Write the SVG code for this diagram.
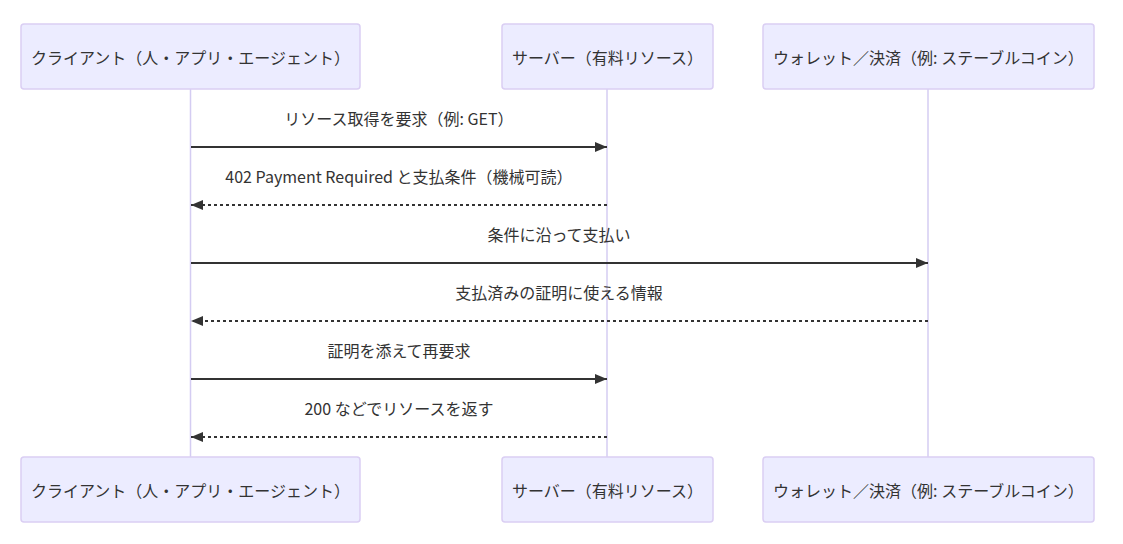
<svg xmlns="http://www.w3.org/2000/svg" width="1123" height="544" viewBox="0 0 1123 544">
<defs>
<style>
.actor{fill:#ECECFF;stroke:#DACEF3;stroke-width:1.5}
.lifeline{stroke:#D4CCF2;stroke-width:1.5}
.atext{font-family:"Noto Sans CJK JP","Noto Sans",sans-serif;font-size:16px;fill:#333;text-anchor:middle;dominant-baseline:central}
.mtext{font-family:"Noto Sans CJK JP","Noto Sans",sans-serif;font-size:16px;fill:#333;text-anchor:middle;dominant-baseline:central}
.msg{stroke:#333;stroke-width:2;fill:none}
.dashed{stroke-dasharray:3,3}
</style>
<marker id="arrow" viewBox="0 0 12 10" refX="12" refY="5" markerWidth="12" markerHeight="10" markerUnits="userSpaceOnUse" orient="auto">
<path d="M0,0 L12,5 L0,10 z" fill="#333"/>
</marker>
</defs>
<rect width="1123" height="544" fill="#fff"/>
<g id="lifelines">
<line class="lifeline" x1="190.5" y1="89" x2="190.5" y2="457"/>
<line class="lifeline" x1="607" y1="89" x2="607" y2="457"/>
<line class="lifeline" x1="928" y1="89" x2="928" y2="457"/>
</g>
<g id="client-top"><rect class="actor" x="21" y="24" width="339" height="65" rx="3"/><text class="atext" x="190.5" y="56.5">クライアント（人・アプリ・エージェント）</text></g>
<g id="server-top"><rect class="actor" x="502" y="24" width="211" height="65" rx="3"/><text class="atext" x="607.5" y="56.5">サーバー（有料リソース）</text></g>
<g id="wallet-top"><rect class="actor" x="763" y="24" width="331" height="65" rx="3"/><text class="atext" x="928.5" y="56.5">ウォレット／決済（例: ステーブルコイン）</text></g>
<g id="client-bottom"><rect class="actor" x="21" y="457" width="339" height="65" rx="3"/><text class="atext" x="190.5" y="489.5">クライアント（人・アプリ・エージェント）</text></g>
<g id="server-bottom"><rect class="actor" x="502" y="457" width="211" height="65" rx="3"/><text class="atext" x="607.5" y="489.5">サーバー（有料リソース）</text></g>
<g id="wallet-bottom"><rect class="actor" x="763" y="457" width="331" height="65" rx="3"/><text class="atext" x="928.5" y="489.5">ウォレット／決済（例: ステーブルコイン）</text></g>
<g id="connectors">
<line class="msg" x1="191" y1="147" x2="607" y2="147" marker-end="url(#arrow)"/>
<line class="msg dashed" x1="607" y1="205" x2="191" y2="205" marker-end="url(#arrow)"/>
<line class="msg" x1="191" y1="263" x2="928" y2="263" marker-end="url(#arrow)"/>
<line class="msg dashed" x1="928" y1="321" x2="191" y2="321" marker-end="url(#arrow)"/>
<line class="msg" x1="191" y1="379" x2="607" y2="379" marker-end="url(#arrow)"/>
<line class="msg dashed" x1="607" y1="437" x2="191" y2="437" marker-end="url(#arrow)"/>
</g>
<g id="labels">
<text class="mtext" x="399" y="118">リソース取得を要求（例: GET）</text>
<text class="mtext" x="399" y="176">402 Payment Required と支払条件（機械可読）</text>
<text class="mtext" x="559" y="234">条件に沿って支払い</text>
<text class="mtext" x="559" y="292">支払済みの証明に使える情報</text>
<text class="mtext" x="399" y="350">証明を添えて再要求</text>
<text class="mtext" x="399" y="408">200 などでリソースを返す</text>
</g>
</svg>
